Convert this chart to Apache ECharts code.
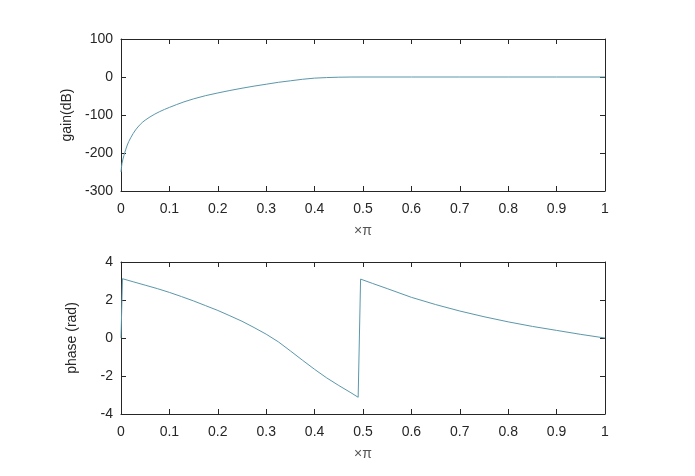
<!DOCTYPE html>
<html>
<head>
<meta charset="utf-8">
<script src="https://cdn.jsdelivr.net/npm/echarts@6/dist/echarts.min.js"></script>
<style>html,body{margin:0;padding:0;background:#fff;}#c{width:695px;height:476px;}</style>
</head>
<body>
<div id="c"></div>
<script>
const gainX = [0, 0.001, 0.002, 0.004, 0.006, 0.008, 0.01, 0.013, 0.016, 0.02, 0.025, 0.03, 0.035, 0.04, 0.045, 0.05, 0.06, 0.07, 0.08, 0.09, 0.1, 0.115, 0.13, 0.15, 0.175, 0.2, 0.225, 0.25, 0.275, 0.3, 0.325, 0.35, 0.375, 0.4, 0.425, 0.45, 0.475, 0.5, 0.6, 0.7, 0.8, 0.9, 1];
const gainY = [-250, -238, -228, -216, -207, -198, -190, -179, -170, -160, -149, -139.5, -131.5, -124.5, -118.5, -113.5, -105, -97.5, -91, -85.3, -80, -72.5, -65.5, -57.5, -49, -42, -35.5, -29.5, -24, -19, -14, -10, -6, -3, -1.5, -0.5, -0.1, 0, 0, 0, 0, 0, 0];
const phaseX = [0, 0.003, 0.025, 0.05, 0.075, 0.1, 0.125, 0.15, 0.175, 0.2, 0.225, 0.25, 0.275, 0.3, 0.325, 0.35, 0.375, 0.4, 0.425, 0.45, 0.475, 0.49, 0.495, 0.52, 0.55, 0.6, 0.65, 0.7, 0.75, 0.8, 0.85, 0.9, 0.95, 1];
const phaseY = [0, 3.12, 2.96, 2.78, 2.6, 2.4, 2.18, 1.95, 1.7, 1.45, 1.17, 0.88, 0.55, 0.2, -0.2, -0.68, -1.17, -1.65, -2.1, -2.5, -2.88, -3.12, 3.1, 2.87, 2.6, 2.14, 1.76, 1.42, 1.12, 0.85, 0.61, 0.4, 0.19, 0];
const xTicks = { min: 0, max: 1, interval: 0.1 };
const gainTicks = { min: -300, max: 100, interval: 100 };
const phaseTicks = { min: -4, max: 4, interval: 2 };
const xName = '×π';
const gainName = 'gain(dB)';
const phaseName = 'phase (rad)';

const axisCol = '#262626';
const lineCol = '#5b97ab';
const font = 'Liberation Sans, Arial, sans-serif';

function xAx(gi, main) {
  return {
    type: 'value', gridIndex: gi, min: xTicks.min, max: xTicks.max, interval: xTicks.interval,
    position: main ? 'bottom' : 'top',
    name: main ? xName : '', nameLocation: 'middle', nameGap: 33,
    nameTextStyle: { color: '#555', fontSize: 14, fontFamily: font },
    axisLine: { show: true, onZero: false, lineStyle: { color: axisCol, width: 1 } },
    axisTick: { show: true, inside: true, length: 5, lineStyle: { color: axisCol } },
    axisLabel: { show: main, color: '#262626', fontSize: 14, fontFamily: font, margin: 11 },
    splitLine: { show: false }
  };
}
function yAx(gi, main, t, name) {
  return {
    type: 'value', gridIndex: gi, min: t.min, max: t.max, interval: t.interval,
    position: main ? 'left' : 'right',
    name: main ? name : '', nameLocation: 'middle', nameGap: 42, nameRotate: 90,
    nameTextStyle: { color: '#262626', fontSize: 14, fontFamily: font },
    axisLine: { show: true, onZero: false, lineStyle: { color: axisCol, width: 1 } },
    axisTick: { show: true, inside: true, length: 5, lineStyle: { color: axisCol } },
    axisLabel: { show: main, color: '#262626', fontSize: 14, fontFamily: font, margin: 8 },
    splitLine: { show: false }
  };
}

const chart = echarts.init(document.getElementById('c'), null, { renderer: 'canvas' });
chart.setOption({
  backgroundColor: '#fff',
  animation: false,
  grid: [
    { left: 121, top: 39, width: 484, height: 152 },
    { left: 121, top: 262, width: 484, height: 152 }
  ],
  xAxis: [xAx(0, true), xAx(0, false), xAx(1, true), xAx(1, false)],
  yAxis: [yAx(0, true, gainTicks, gainName), yAx(0, false, gainTicks, ''), yAx(1, true, phaseTicks, phaseName), yAx(1, false, phaseTicks, '')],
  series: [
    { type: 'line', xAxisIndex: 0, yAxisIndex: 0, showSymbol: false,
      lineStyle: { color: lineCol, width: 1 },
      data: gainX.map((x, i) => [x, gainY[i]]) },
    { type: 'line', xAxisIndex: 2, yAxisIndex: 2, showSymbol: false,
      lineStyle: { color: lineCol, width: 1 },
      data: phaseX.map((x, i) => [x, phaseY[i]]) }
  ]
});
</script>
</body>
</html>
